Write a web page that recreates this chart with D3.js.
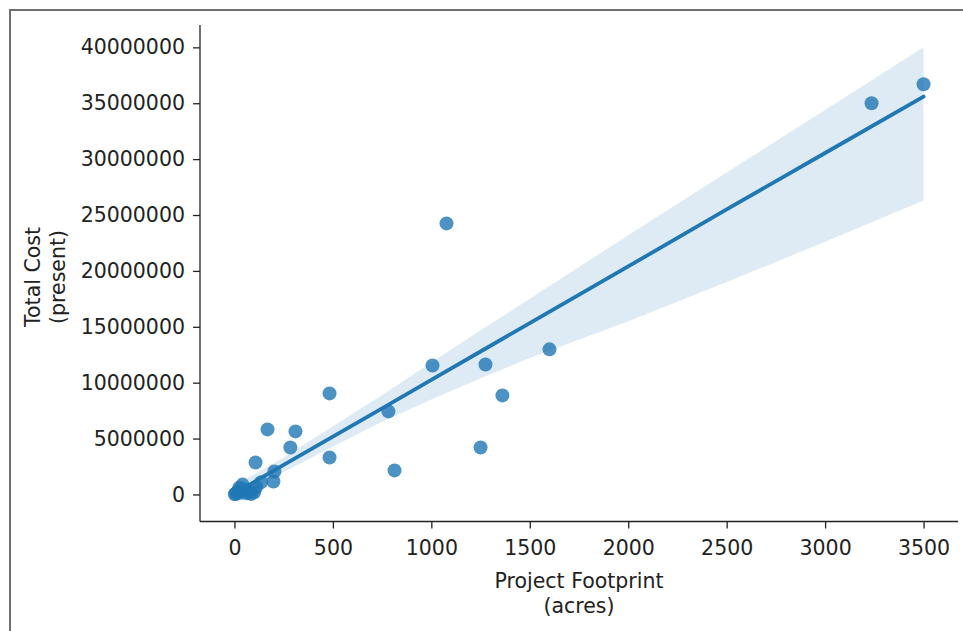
<!DOCTYPE html>
<html>
<head>
<meta charset="utf-8">
<script src="https://cdn.jsdelivr.net/npm/d3@7"></script>
<style>
  body { margin: 0; background: #fff; }
  svg { display: block; font-family: "DejaVu Sans", sans-serif; }
  .tick text { font-size: 20.5px; fill: #222; }
  .axis-label { font-size: 20.5px; fill: #222; }
</style>
</head>
<body>
<svg id="chart" width="963" height="631"></svg>
<script>
// acres vs present-day cost
const footprint = [3236, 3500, 1077, 1600, 1006, 1275, 1361, 483, 782, 168, 310, 284, 1250, 483, 813, 107, 198, 203, 136,
  2, 8, 15, 25, 35, 41, 55, 65, 75, 85, 100, 110];
const totalCost = [35.0e6, 36.7e6, 24.25e6, 12.98e6, 11.54e6, 11.63e6, 8.86e6, 9.04e6, 7.43e6, 5.82e6, 5.64e6, 4.2e6, 4.2e6, 3.31e6, 2.15e6, 2.86e6, 1.16e6, 2.06e6, 1.1e6,
  20000, 80000, 250000, 600000, 150000, 880000, 400000, 100000, 300000, 50000, 200000, 650000];

// fitted line and its confidence band
const bandX = [0, 250, 500, 750, 1000, 1250, 1500, 2000, 2500, 3000, 3500];
const fitY = [0.1e6, 2.64e6, 5.18e6, 7.71e6, 10.25e6, 12.79e6, 15.33e6, 20.4e6, 25.5e6, 30.55e6, 35.6e6];
const bandLo = [-0.5e6, 2.0e6, 4.3e6, 6.5e6, 8.5e6, 10.4e6, 12.2e6, 15.5e6, 19.0e6, 22.6e6, 26.3e6];
const bandHi = [0.8e6, 3.3e6, 6.1e6, 8.9e6, 11.8e6, 14.7e6, 17.5e6, 23.2e6, 28.8e6, 34.4e6, 40.0e6];

const xTicks = [0, 500, 1000, 1500, 2000, 2500, 3000, 3500];
const yTicks = [0, 5e6, 10e6, 15e6, 20e6, 25e6, 30e6, 35e6, 40e6];

const svg = d3.select('#chart');
const plot = { left: 200, right: 958, top: 25, bottom: 521.5 };
const blue = '#1f77b4';

// outer frame (top and left edges only)
svg.append('path')
  .attr('d', 'M10,631 V10 H963')
  .attr('fill', 'none')
  .attr('stroke', '#707070')
  .attr('stroke-width', 2);

const x = d3.scaleLinear().domain([-175, 3675]).range([plot.left, plot.right]);
const y = d3.scaleLinear().domain([-2.42e6, 42.0e6]).range([plot.bottom, plot.top]);

const band = bandX.map((v, i) => ({ x: v, lo: bandLo[i], hi: bandHi[i], fit: fitY[i] }));

svg.append('path')
  .datum(band)
  .attr('fill', blue)
  .attr('fill-opacity', 0.15)
  .attr('d', d3.area().x(d => x(d.x)).y0(d => y(d.lo)).y1(d => y(d.hi)));

svg.append('g')
  .selectAll('circle')
  .data(footprint.map((v, i) => [v, totalCost[i]]))
  .join('circle')
  .attr('cx', d => x(d[0]))
  .attr('cy', d => y(d[1]))
  .attr('r', 7)
  .attr('fill', blue)
  .attr('fill-opacity', 0.8);

svg.append('path')
  .datum(band)
  .attr('fill', 'none')
  .attr('stroke', blue)
  .attr('stroke-width', 3.8)
  .attr('stroke-linecap', 'round')
  .attr('d', d3.line().x(d => x(d.x)).y(d => y(d.fit)));

const xAxis = svg.append('g')
  .attr('transform', `translate(0,${plot.bottom})`)
  .call(d3.axisBottom(x).tickValues(xTicks).tickFormat(d3.format('d')).tickSize(7).tickPadding(12));
const yAxis = svg.append('g')
  .attr('transform', `translate(${plot.left},0)`)
  .call(d3.axisLeft(y).tickValues(yTicks).tickFormat(d3.format('d')).tickSize(7).tickPadding(8));

[xAxis, yAxis].forEach(g => {
  g.attr('font-size', null).attr('font-family', null);
  g.select('.domain').attr('stroke', '#222').attr('stroke-width', 1.3);
  g.selectAll('.tick line').attr('stroke', '#222').attr('stroke-width', 1.3);
});
xAxis.select('.domain').attr('d', `M${plot.left},0H${plot.right}`);
yAxis.select('.domain').attr('d', `M0,${plot.top}V${plot.bottom}`);

const xl = svg.append('text')
  .attr('class', 'axis-label')
  .attr('text-anchor', 'middle')
  .attr('transform', `translate(${(plot.left + plot.right) / 2},588)`);
xl.append('tspan').attr('x', 0).attr('dy', 0).text('Project Footprint');
xl.append('tspan').attr('x', 0).attr('dy', 25).text('(acres)');

const yl = svg.append('text')
  .attr('class', 'axis-label')
  .attr('text-anchor', 'middle')
  .attr('transform', `translate(40,277) rotate(-90)`);
yl.append('tspan').attr('x', 0).attr('dy', 0).text('Total Cost');
yl.append('tspan').attr('x', 0).attr('dy', 25).text('(present)');
</script>
</body>
</html>
